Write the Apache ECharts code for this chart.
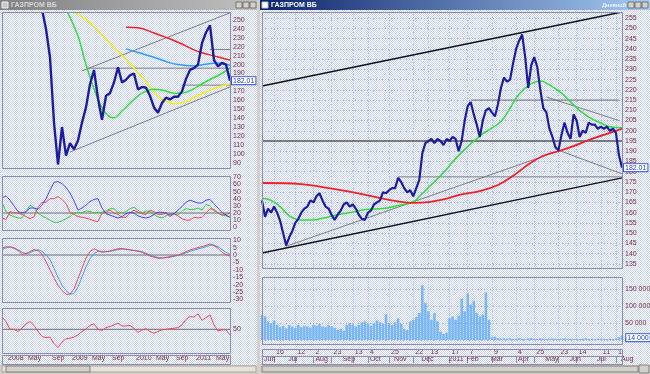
<!DOCTYPE html>
<html><head><meta charset="utf-8">
<script src="https://cdn.jsdelivr.net/npm/echarts@6/dist/echarts.min.js"></script>
<style>html,body{margin:0;padding:0;background:#d4d0c8;}#c{width:650px;height:374px;}</style>
</head><body><div id="c"></div>
<script>
// ---------- texts ----------
const titleText = 'ГАЗПРОМ ВБ';
const periodText = 'Дневной';
const lastPriceText = '182.01';
const lastVolumeText = '14 000';

// ---------- right chart (daily, Jun 2010 - Aug 2011), one slot ~ 2-3 trading days ----------
const rightPrice = [
166,158,162,160,163,160,156,150,144,148,
151,155,157,160,162,163,166,165,168,169.5,
166,163,162,159,156.5,159,161,164,165,163,
164,162,159,157,156.5,160,161,164,165,166,
170,169.5,171,172,172,177,175,172,170,171,
168,172,176,189,194,195,196,194,196,195,
193,196,195,197,196,190,195,205,212,214,
208,203,197,205,210,211,209,207,213,221,
226,224,225,233,240,244,247,236,221,232,
236,231,220,211,209,201,197,192,190.5,198,
204,199,196,208,205,197,200,199,204,203,
203,201,202,201,202,200,201,199,188,182.01];
const rightVolume = [
75000,70000,55000,50000,58000,45000,38000,42000,35000,44000,
40000,36000,45000,38000,42000,40000,37000,45000,42000,48000,
40000,38000,44000,41000,36000,30000,33000,28000,45000,50000,
46000,40000,45000,52000,55000,48000,42000,50000,58000,52000,
48000,76000,50000,45000,52000,64000,48000,32000,30000,55000,
60000,68000,80000,162000,110000,85000,60000,80000,55000,25000,
18000,22000,65000,70000,60000,72000,122000,85000,138000,105000,
116000,80000,70000,75000,141000,60000,8000,10000,6000,4000,
5000,4000,5000,3000,4000,5000,4000,3000,5000,6000,
4000,3000,5000,4000,3000,4000,5000,4000,3000,4000,
5000,3000,4000,3000,4000,3000,4000,5000,3000,4000,
3000,4000,3000,4000,3000,4000,3000,5000,8000,14000];
const rightRedMA = [[0,174.5],[13,174],[20,172.5],[28,170.5],[38,167.5],[45,165.5],[50,164.8],[55,165.2],[60,166.5],[66,169],[72,170.5],[78,173.5],[83,178],[88,183.5],[93,187.8],[98,190],[103,192.5],[108,195.5],[113,198],[119,201]];
const rightGreenMA = [[0,167],[3,166],[6,163],[9,158.5],[13,156.4],[17,156.4],[20,157.3],[25,159],[30,160.3],[35,161.7],[40,162],[45,163.5],[50,165.2],[52,168],[59,178],[65,188],[72,197.5],[75,200.4],[79,204.5],[82,211],[85,218],[89,223],[92,224.3],[95,222.4],[99,218.4],[102,214],[105,210],[108,206.7],[112,203.8],[115,202],[119,201.5]];
const rTrendTop = [[0,221.9],[119,258]];
const rTrendBottom = [[0,140.3],[119,177]];
const rTrendRise = [[8,143.6],[119,201]];
const rTrendFallLow = [[98,190.5],[119,179]];
const rTrendFallHigh = [[94,216.5],[118,205]];
const rLevel215 = [[69,215],[118,215]];
const rLevel177 = [[45,177.5],[119,177.5]];
const rLevel195 = [[0,195],[119,195]];
const dayTickSlots = [4,11,17,23,30,35,42,50,55,62,68,76,84,90,98,104,112,117];
const dayTickLabels = ['16','12','2','23','13','4','25','22','13','17','7','9','4','25','23','14','11','1'];
const monthTickSlots = [0,8,17,26,35,43,52,61,67,75,84,93,101,110,118];
const monthTickLabels = ['Jun','Jul','Aug','Sep','Oct','Nov','Dec','2011','Feb','Mar','Apr','May','Jun','Jul','Aug'];

// ---------- left chart (weekly-ish, Dec 2007 - Aug 2011) ----------
const leftPrice = [
null,null,null,null,null,null,null,null,null,null,
262,240,208,135,88,130,98,112,105,115,
135,152,178,194,162,138,165,168,180,197,
180,183,188,190,172,175,174,165,152,146,
157,163,161,164,164,170,184,194,196,200,
224,236,244,205,198,202,200,182.01];
const leftGreenMA = [[16,262],[19,232],[21,200],[24,161],[26,145],[28,140.5],[30,148],[33,161],[35,168],[38,172.5],[40,171.6],[43,168],[45,168],[48,173],[50,178.5],[53,185.5],[55,190.3],[57,196]];
const leftYellowMA = [[17,261],[21,250.5],[24,238],[28,219],[31,206],[34,191],[36,181],[39,164.5],[41,159],[43,156.2],[46,158.5],[48,163],[51,169.5],[54,175],[57,178]];
const leftBlueMA = [[31,217.6],[34,213.5],[38,208.3],[41,203.4],[44,200],[48,198.4],[51,200.5],[54,201.8],[57,199.3]];
const leftRedMA = [[31,242],[34,241.3],[38,235.5],[41,230.5],[44,225],[48,216.5],[50,213.3],[53,209.8],[55,207.3],[57,205]];
const lTrendUp = [[20,193],[57,258]];
const lTrendLow = [[17,102],[57,175]];
const lLevel196 = [[21,196],[57,196]];
const lLevel217 = [[52,217],[57,217]];
const lLevel177 = [[45,177],[57,177]];
const adxBlue = [41,44,38,30,22,20,22,27,27,25,31,40,52,63,64,61,56,48,37,24,27,31,36,39,40,27,19,17,15,13,15,19,21,20,16,14,13,14.5,18,21,21,20,17,19,24,29,35,38,36,34,34,38,39,33,27,21,17,14];
const adxRed = [13,11,22,20,20,18,15,12,15,28,35,35,40,40,43,39,33,21,18,15,14,13,11,9,8,20,21,24,20,18,14,14,20,24,21,19,18,24,22,18,18,20,15,19,16,12,10,10,14,13,14,20,26,25,20,17,18,20];
const adxGreen = [35,22,17,15,13,13,22,31,27,20,16,13,10,7,7,9,12,15,20,21,20,23,22,20,21,21,23,26,26,21,20,22,26,28,24,20,23,22,18,14.5,13,16,19,19,17,23,26,25,25,27,24,32,30,23,20,17,16,14];
const adxLevel = [[0,20],[57,20]];
const macdRed = [4.5,5.5,5.5,4.5,3,0.5,1,2.3,3.6,3,0.5,-4.5,-10,-15.5,-20.5,-24,-26.5,-26.4,-23,-16,-9,-2,2.3,4.2,3,1.8,2.2,2.7,3.5,4.2,4.4,3.9,3.4,3,2.5,1.8,0.5,-0.7,-1.5,-2.2,-2.1,-1.6,-1.1,-0.6,-0.1,1,2.2,3.4,4.2,5,5.7,6.5,7.4,6.5,4.6,1.8,0.2,-0.8];
const macdBlue = [3.5,4.8,5.5,5,3.5,1.8,0.8,1.5,2.8,3.5,2.5,0,-3,-9,-15,-20.5,-24,-26.5,-26,-21.5,-15,-8,-2.5,1,2.5,2.5,2.5,2.5,3,3.7,4,3.8,3.5,3.1,2.8,2.3,1.2,0,-1,-1.6,-2,-1.8,-1.5,-0.9,-0.3,0.5,1.5,2.5,3.3,4.1,4.8,5.6,6.6,6.7,5.6,3.8,1.7,0.3];
const macdLevel = [[0,0],[57,0]];
const rsiRed = [72,64,50,50,46,52,60,64,57,46.5,37,35,36,24,17,27,33,34,36,40,46,51,57,60,50,48,53,55,58,61,56,56,57,52,44,49,51,46,43,46,49,50,51,52,53,58,68,73,72,78,66,71,76,58,47,49,49,40];
const rsiLevel = [[0,50],[57,50]];
const leftTickSlots = [1,6,12,17,22,27,33,38,43,48,53];
const leftTickLabels = ['2008','May','Sep','2009','May','Sep','2010','May','Sep','2011','May'];

// ---------- build ----------
const rightSlots = rightPrice.map((_, i) => i);
const leftSlots = leftPrice.map((_, i) => i);
const dayMap = {}; dayTickSlots.forEach((s, k) => dayMap[s] = dayTickLabels[k]);
const monMap = {}; monthTickSlots.forEach((s, k) => monMap[s] = monthTickLabels[k]);
const leftMap = {}; leftTickSlots.forEach((s, k) => leftMap[s] = leftTickLabels[k]);

const pc = document.createElement('canvas'); pc.width = 2; pc.height = 2;
const g2 = pc.getContext('2d');
g2.fillStyle = '#ffffff'; g2.fillRect(0, 0, 2, 2);
g2.fillStyle = '#c6d0f4'; g2.fillRect(0, 0, 1, 1); g2.fillRect(1, 1, 1, 1);
const dither = { image: pc, repeat: 'repeat' };

const FONT = 'Liberation Sans';
const labCol = '#7a2e2e';
const frameCol = '#8a8ab2';
const gridDot = '#9fb6ea';

function catX(gi, data, extra) {
  return Object.assign({ type: 'category', gridIndex: gi, data: data, boundaryGap: false,
    axisLine: { show: false }, axisTick: { show: false }, axisLabel: { show: false }, splitLine: { show: false } }, extra || {});
}
function valY(gi, min, max, interval, extra) {
  return Object.assign({ type: 'value', gridIndex: gi, min: min, max: max, interval: interval, position: 'right',
    axisLine: { show: false }, axisTick: { show: false }, splitLine: { show: false },
    axisLabel: { show: true, showMinLabel: false, showMaxLabel: false, margin: 3, color: labCol, fontSize: 7, fontFamily: FONT } }, extra || {});
}
function ln(data, xi, yi, color, width, extra) {
  return Object.assign({ type: 'line', data: data, xAxisIndex: xi, yAxisIndex: yi, symbol: 'none', silent: true,
    lineStyle: { color: color, width: width }, z: 3 }, extra || {});
}
const dateAxis = (gi, data, map, len) => ({
  type: 'category', gridIndex: gi, data: data, boundaryGap: false, position: 'top',
  axisLine: { show: true, lineStyle: { color: frameCol, width: 1 } },
  axisTick: { show: true, inside: true, length: len, interval: (i) => map[i] !== undefined, lineStyle: { color: frameCol } },
  axisLabel: { show: true, inside: true, margin: 0, interval: (i) => map[i] !== undefined, formatter: (v, i) => map[i] || '',
    align: 'left', padding: [0, 0, 0, 2], color: labCol, fontSize: 7, fontFamily: FONT, lineHeight: 7, hideOverlap: false },
  splitLine: { show: false }
});

const vol = rightVolume.map((v, i) => i === rightVolume.length - 1 ? { value: v, label: { show: true, position: 'right', distance: 3, formatter: lastVolumeText,
  backgroundColor: '#ffffff', borderColor: '#3355cc', borderWidth: 1, padding: [0, 1], color: '#2244bb', fontSize: 7, fontFamily: FONT } } : v);

const tagLabel = { show: true, formatter: lastPriceText, distance: 2, backgroundColor: '#ffffff', borderColor: '#3355cc', borderWidth: 1,
  padding: [0, 1], color: '#2244bb', fontSize: 7, fontFamily: FONT };

const grids = [
  { left: 262, top: 7.904, width: 360, height: 266.24 },   // 0 right main
  { left: 262, top: 272.4, width: 360, height: 67.6 },     // 1 volume
  { left: 262, top: 349, width: 360, height: 7 },          // 2 day row
  { left: 262, top: 356, width: 360, height: 8 },          // 3 month row
  { left: 2, top: 11.08, width: 228, height: 160.56 },     // 4 left main
  { left: 2, top: 170.16, width: 228, height: 64.26 },     // 5 ADX
  { left: 2, top: 232.8, width: 228, height: 74 },         // 6 MACD
  { left: 2, top: 301.55, width: 228, height: 55.5 },      // 7 RSI
  { left: 2, top: 355, width: 228, height: 9 }             // 8 left dates
].map(g => Object.assign({ outerBoundsMode: 'none', containLabel: false }, g));

const splitX = { show: true, interval: (i) => dayMap[i] !== undefined, lineStyle: { color: gridDot, type: [1, 2], width: 1 } };

const option = {
  animation: false,
  backgroundColor: 'transparent',
  grid: grids,
  xAxis: [
    catX(0, rightSlots, { splitLine: splitX }),
    catX(1, rightSlots, { splitLine: splitX }),
    dateAxis(2, rightSlots, dayMap, 7),
    dateAxis(3, rightSlots, monMap, 8),
    catX(4, leftSlots),
    catX(5, leftSlots),
    catX(6, leftSlots),
    catX(7, leftSlots),
    dateAxis(8, leftSlots, leftMap, 9)
  ],
  yAxis: [
    valY(0, 130, 260, 5, { splitLine: { show: true, lineStyle: { color: gridDot, type: [1, 2], width: 1 } } }),
    valY(1, 0, 200000, 50000, { splitLine: { show: true, lineStyle: { color: gridDot, type: [1, 2], width: 1 } },
      axisLabel: { show: true, showMaxLabel: false, margin: 3, color: labCol, fontSize: 7, fontFamily: FONT,
        formatter: v => v === 0 ? '0' : (v / 1000) + ' 000' } }),
    valY(2, 0, 1, 1, { show: false }),
    valY(3, 0, 1, 1, { show: false }),
    valY(4, 80, 260, 10),
    valY(5, -10, 80, 10),
    valY(6, -35, 15, 5),
    valY(7, 0, 100, 50, { axisLabel: { show: true, margin: 3, color: labCol, fontSize: 7, fontFamily: FONT, formatter: v => v === 50 ? '50' : '' } }),
    valY(8, 0, 1, 1, { show: false })
  ],
  series: [
    // right main
    ln(rTrendTop, 0, 0, '#111111', 1.5),
    ln(rTrendBottom, 0, 0, '#111111', 1.5),
    ln(rLevel195, 0, 0, '#5a5a5a', 1.5),
    ln(rTrendRise, 0, 0, '#7c7c7c', 1),
    ln(rTrendFallLow, 0, 0, '#7c7c7c', 1),
    ln(rTrendFallHigh, 0, 0, '#7c7c7c', 1),
    ln(rLevel215, 0, 0, '#6c6c6c', 1),
    ln(rLevel177, 0, 0, '#7c7c7c', 1),
    ln(rightGreenMA, 0, 0, '#2fe02f', 1.5, { smooth: 0.4 }),
    ln(rightRedMA, 0, 0, '#f02020', 1.8, { smooth: 0.4 }),
    ln(rightPrice, 0, 0, '#1d1d9c', 2.2, { z: 4, endLabel: tagLabel }),
    // volume
    { type: 'bar', data: vol, xAxisIndex: 1, yAxisIndex: 1, barCategoryGap: '15%', itemStyle: { color: '#7ab7f2' }, silent: true },
    // left main
    ln(lTrendUp, 4, 4, '#7c7c7c', 1),
    ln(lTrendLow, 4, 4, '#7c7c7c', 1),
    ln(lLevel196, 4, 4, '#7c7c7c', 1),
    ln(lLevel217, 4, 4, '#7c7c7c', 1),
    ln(lLevel177, 4, 4, '#7c7c7c', 1),
    ln(leftYellowMA, 4, 4, '#f2f200', 1.5, { smooth: 0.4 }),
    ln(leftGreenMA, 4, 4, '#2fe02f', 1.5, { smooth: 0.4 }),
    ln(leftBlueMA, 4, 4, '#2f9cf5', 1.5, { smooth: 0.4 }),
    ln(leftRedMA, 4, 4, '#f02020', 1.5, { smooth: 0.4 }),
    ln(leftPrice, 4, 4, '#1d1d9c', 2.4, { z: 4, endLabel: tagLabel }),
    // ADX
    ln(adxLevel, 5, 5, '#6c6c6c', 1),
    ln(adxGreen, 5, 5, '#33d033', 1),
    ln(adxRed, 5, 5, '#f04848', 1),
    ln(adxBlue, 5, 5, '#4646f0', 1),
    // MACD
    ln(macdLevel, 6, 6, '#6c6c6c', 1),
    ln(macdBlue, 6, 6, '#3aa0f5', 1),
    ln(macdRed, 6, 6, '#f04848', 1),
    // RSI
    ln(rsiLevel, 7, 7, '#6c6c6c', 1),
    ln(rsiRed, 7, 7, '#f04848', 1)
  ],
  graphic: []
};

const G = option.graphic;
const rect = (x, y, w, h, style, z) => G.push({ type: 'rect', silent: true, z: z, shape: { x: x, y: y, width: w, height: h }, style: style });
const frame = (x, y, w, h) => rect(x + 0.5, y + 0.5, w, h, { fill: 'none', stroke: frameCol, lineWidth: 1 }, 60);
const txt = (x, y, t, fill, font, z) => G.push({ type: 'text', silent: true, z: z || 61, x: x, y: y, style: { text: t, fill: fill, font: font } });

// backgrounds
rect(0, 0, 650, 374, { fill: '#d4d0c8' }, -20);
rect(0, 10, 257, 355, { fill: dither }, -19);
rect(260, 10, 390, 355, { fill: dither }, -19);
// covers for gaps between panels
[[262, 6, 360, 6], [262, 268, 360, 9], [262, 344, 360, 5], [2, 9, 228, 3], [2, 168, 228, 8], [2, 230, 228, 8], [2, 302, 228, 6], [2, 353, 228, 2]]
  .forEach(r => rect(r[0], r[1], r[2], r[3], { fill: dither }, 50));
// frames
frame(262, 12, 360, 256); frame(262, 277, 360, 67); frame(262, 349, 360, 7); frame(262, 356, 360, 8);
frame(2, 12, 228, 156); frame(2, 176, 228, 54); frame(2, 238, 228, 64); frame(2, 308, 228, 45); frame(2, 355, 228, 9);
// window borders
rect(257, 0, 3, 374, { fill: '#d4d0c8' }, 55);
rect(0, 365, 650, 9, { fill: '#d4d0c8' }, 55);
// scrollbars
rect(2, 366, 254, 6, { fill: '#e6e3dc', stroke: '#a8a49c', lineWidth: 1 }, 56);
rect(6, 366, 84, 6, { fill: '#d4d0c8', stroke: '#808080', lineWidth: 1 }, 57);
rect(262, 366, 376, 6, { fill: '#d4d0c8', stroke: '#808080', lineWidth: 1 }, 56);
rect(639, 365, 10, 8, { fill: '#d4d0c8', stroke: '#808080', lineWidth: 1 }, 57);
// title bars
rect(0, 0, 257, 10, { fill: { type: 'linear', x: 0, y: 0, x2: 1, y2: 0, colorStops: [{ offset: 0, color: '#808080' }, { offset: 1, color: '#c0c0c0' }] } }, 60);
rect(2, 2, 6, 6, { fill: '#c8c8c8', stroke: '#eeeeee', lineWidth: 1 }, 61);
txt(11, 1.5, titleText, '#d8d8d8', 'bold 7px "' + FONT + '"');
[236, 243, 250].forEach(x => rect(x, 2, 6, 6, { fill: '#d4d0c8', stroke: '#404040', lineWidth: 0.6 }, 61));
rect(260, 0, 390, 10, { fill: { type: 'linear', x: 0, y: 0, x2: 1, y2: 0, colorStops: [{ offset: 0, color: '#0a246a' }, { offset: 1, color: '#a6caf0' }] } }, 60);
rect(262, 2, 6, 6, { fill: '#ffffff', stroke: '#c0c0c0', lineWidth: 1 }, 61);
txt(271, 1.5, titleText, '#ffffff', 'bold 7px "' + FONT + '"');
txt(602, 2, periodText, '#ffffff', '6px "' + FONT + '"');
[628, 635, 642].forEach(x => rect(x, 2, 6, 6, { fill: '#d4d0c8', stroke: '#404040', lineWidth: 0.6 }, 61));

const chart = echarts.init(document.getElementById('c'), null, { renderer: 'canvas' });
chart.setOption(option);
</script></body></html>
